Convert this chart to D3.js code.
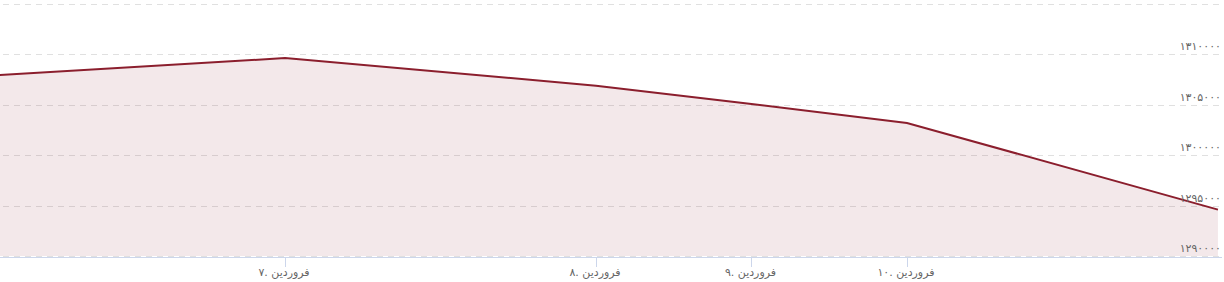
<!DOCTYPE html>
<html>
<head>
<meta charset="utf-8">
<script src="https://cdn.jsdelivr.net/npm/d3@7"></script>
<style>
  body { margin: 0; background: #fff; }
  text { font-family: Tahoma, "DejaVu Sans", sans-serif; }
</style>
</head>
<body>
<script>
// ordinal slots of the points (equal spacing per point, like a stock chart)
var slots = [0, 2, 4, 5, 6, 8];
var values = [1307800, 1309640, 1306900, 1305080, 1303200, 1294600];

var tickSlots = [2, 4, 5, 6];
var tickLabels = ['۷. فروردین', '۸. فروردین', '۹. فروردین', '۱۰. فروردین'];

var yTicks = [1290000, 1295000, 1300000, 1305000, 1310000, 1315000];
var yLabels = ['۱۲۹۰۰۰۰', '۱۲۹۵۰۰۰', '۱۳۰۰۰۰۰', '۱۳۰۵۰۰۰', '۱۳۱۰۰۰۰', ''];

var width = 1224, height = 282;

var svg = d3.select('body')
  .append('svg')
  .attr('width', width)
  .attr('height', height);

var x = d3.scaleLinear()
  .domain([0.167, 8.026])
  .range([0, 1222]);

var y = d3.scaleLinear()
  .domain([1290000, 1315000])
  .range([256, 4]);

svg.append('clipPath')
  .attr('id', 'plot')
  .append('rect')
  .attr('x', 0)
  .attr('y', 0)
  .attr('width', 1222)
  .attr('height', 257);

// grid
svg.selectAll('line.grid')
  .data(yTicks)
  .enter()
  .append('line')
  .attr('class', 'grid')
  .attr('x1', 3)
  .attr('x2', 1222)
  .attr('y1', function(d) { return Math.round(y(d)) + 0.5; })
  .attr('y2', function(d) { return Math.round(y(d)) + 0.5; })
  .style('stroke', '#e0e0e0')
  .style('stroke-dasharray', '6,5');

var pts = slots.map(function(s, i) { return [s, values[i]]; });

var area = d3.area()
  .x(function(d) { return x(d[0]); })
  .y0(y(1290000))
  .y1(function(d) { return y(d[1]); });

var line = d3.line()
  .x(function(d) { return x(d[0]); })
  .y(function(d) { return y(d[1]); });

var g = svg.append('g').attr('clip-path', 'url(#plot)');

g.append('path')
  .datum(pts)
  .attr('d', area)
  .style('fill', '#8b1e2d')
  .style('fill-opacity', 0.1);

g.append('path')
  .datum(pts)
  .attr('d', line)
  .style('fill', 'none')
  .style('stroke', '#8b1e2d')
  .style('stroke-width', 2);

// x axis
svg.append('line')
  .attr('x1', 0)
  .attr('x2', 1222)
  .attr('y1', 257.5)
  .attr('y2', 257.5)
  .style('stroke', '#ccd6eb');

svg.selectAll('line.tick')
  .data(tickSlots)
  .enter()
  .append('line')
  .attr('class', 'tick')
  .attr('x1', function(d) { return Math.round(x(d)) + 0.5; })
  .attr('x2', function(d) { return Math.round(x(d)) + 0.5; })
  .attr('y1', 257)
  .attr('y2', 267)
  .style('stroke', '#ccd6eb');

svg.selectAll('text.xlab')
  .data(tickSlots)
  .enter()
  .append('text')
  .attr('class', 'xlab')
  .attr('x', function(d) { return x(d) - 1; })
  .attr('y', 276)
  .attr('text-anchor', 'middle')
  .style('font-size', '11px')
  .style('fill', '#666666')
  .text(function(d, i) { return tickLabels[i]; });

svg.selectAll('text.ylab')
  .data(yTicks)
  .enter()
  .append('text')
  .attr('class', 'ylab')
  .attr('x', 1221)
  .attr('y', function(d) { return y(d) - 4; })
  .attr('text-anchor', 'end')
  .style('font-size', '11px')
  .style('fill', '#666666')
  .text(function(d, i) { return yLabels[i]; });
</script>
</body>
</html>
